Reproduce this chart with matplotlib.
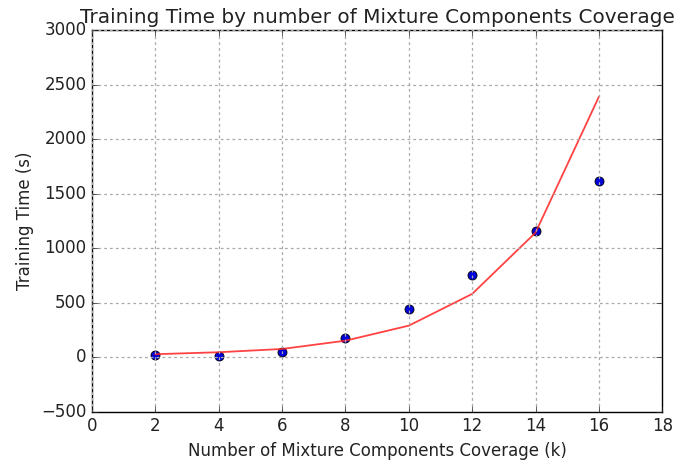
import matplotlib
matplotlib.use('Agg')
import matplotlib.pyplot as plt

# -----------------------------
# Data
# -----------------------------
components = [2, 4, 6, 8, 10, 12, 14, 16]
train_time = [21, 15, 49, 180, 440, 755, 1161, 1617]
fit_time = [28, 46, 76, 152, 290, 581, 1143, 2389]

# -----------------------------
# Plotting
# -----------------------------
plt.style.use('classic')
plt.rcParams['text.color'] = '#222222'
plt.rcParams['xtick.color'] = '#222222'
plt.rcParams['ytick.color'] = '#222222'
plt.rcParams['axes.labelcolor'] = '#222222'

fig = plt.figure(figsize=(6.82, 4.65), dpi=100, facecolor='white')
ax = fig.add_axes([0.135, 0.1145, 0.836, 0.8205])

ax.plot(components, train_time, 'o', color=(0, 0, 0.85), markersize=6.5,
        markeredgecolor='k', markeredgewidth=0.6)
ax.plot(components, fit_time, '-', color='#ff2222', linewidth=1.3, alpha=0.85)

ax.set_xlim(0, 18)
ax.set_ylim(-500, 3000)
ax.set_xticks(range(0, 19, 2))
ax.set_yticks(range(-500, 3001, 500))
ax.grid(True, color='#aaaaaa', linestyle=(0, (2, 2.2)), linewidth=0.9)

ax.set_title('Training Time by number of Mixture Components Coverage')
ax.set_xlabel('Number of Mixture Components Coverage (k)')
ax.set_ylabel('Training Time (s)')

fig.savefig('out.png', dpi=100, facecolor='white')
